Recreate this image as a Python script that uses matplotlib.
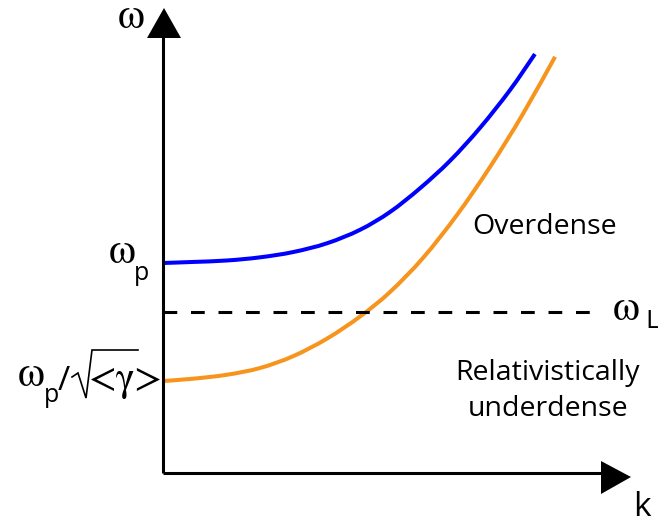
import matplotlib
matplotlib.use("Agg")
import matplotlib.pyplot as plt
from matplotlib.patches import Polygon, PathPatch
from matplotlib.path import Path

# Dispersion curves, in units where omega_p = 1 (k and omega on the same scale)
k_plasma = [0.0, 0.143, 0.305, 0.462, 0.619, 0.781, 0.938, 1.081, 1.224,
            1.367, 1.510, 1.652, 1.771]
w_plasma = [1.000, 1.005, 1.012, 1.027, 1.052, 1.094, 1.158, 1.243, 1.356,
            1.487, 1.644, 1.823, 1.995]

k_rel = [0.0, 0.143, 0.305, 0.462, 0.619, 0.781, 0.938, 1.081, 1.238,
         1.400, 1.557, 1.714, 1.867]
w_rel = [0.438, 0.449, 0.468, 0.500, 0.556, 0.640, 0.745, 0.862, 1.024,
         1.229, 1.457, 1.710, 1.982]

omega_p = 1.0
omega_rel = 0.438
omega_L = 0.767
k_max_dash = 2.084

SCALE = 210.0   # pixels per unit
X0, Y0 = 163.0, 473.0   # origin in pixels
W, H = 658, 529

fig = plt.figure(figsize=(W / 100, H / 100), dpi=100)
ax = fig.add_axes([0, 0, 1, 1])
ax.set_xlim(-X0 / SCALE, (W - X0) / SCALE)
ax.set_ylim(-(H - Y0) / SCALE, Y0 / SCALE)
ax.axis("off")


def P(x, y):
    """pixel position -> data coordinates"""
    return (x - X0) / SCALE, (Y0 - y) / SCALE


def smooth_path(xs, ys):
    """Catmull-Rom curve through the given points, as cubic Bezier segments."""
    pts = list(zip(xs, ys))
    verts = [pts[0]]
    codes = [Path.MOVETO]
    n = len(pts)
    for i in range(n - 1):
        p0 = pts[i - 1] if i > 0 else pts[i]
        p1 = pts[i]
        p2 = pts[i + 1]
        p3 = pts[i + 2] if i + 2 < n else pts[i + 1]
        c1 = (p1[0] + (p2[0] - p0[0]) / 6, p1[1] + (p2[1] - p0[1]) / 6)
        c2 = (p2[0] - (p3[0] - p1[0]) / 6, p2[1] - (p3[1] - p1[1]) / 6)
        verts += [c1, c2, p2]
        codes += [Path.CURVE4] * 3
    return Path(verts, codes)


BLUE = "#0000ff"
ORANGE = "#f7941d"
SANS = ["Open Sans", "DejaVu Sans"]
SERIF = ["STIXGeneral", "Liberation Serif", "DejaVu Serif"]

# axes with arrow heads
ax.plot([0, 0], [0, P(0, 36)[1]], color="black", lw=2.2, solid_capstyle="butt")
ax.plot([0, P(603, 0)[0]], [0, 0], color="black", lw=2.2, solid_capstyle="butt")
ax.add_patch(Polygon([P(147, 38), P(181, 38), P(164, 8)], closed=True,
                     color="black", lw=0))
ax.add_patch(Polygon([P(601, 461), P(601, 494), P(631, 477)], closed=True,
                     color="black", lw=0))

# laser frequency
ax.plot([0, k_max_dash], [omega_L, omega_L], color="black", lw=2.2,
        dashes=(4.5, 4.5))

# curves
ax.add_patch(PathPatch(smooth_path(k_plasma, w_plasma), fill=False,
                       edgecolor=BLUE, lw=2.9, capstyle="butt"))
ax.add_patch(PathPatch(smooth_path(k_rel, w_rel), fill=False,
                       edgecolor=ORANGE, lw=2.9, capstyle="butt"))

# axis labels
ax.text(*P(131, 18), "ω", family=SERIF, fontsize=31, ha="center", va="center")
ax.text(*P(642, 508), "k", family=SANS, fontsize=24, ha="center", va="center")

# omega_L
ax.text(*P(626, 310), "ω", family=SERIF, fontsize=31, ha="center", va="center")
ax.text(*P(652, 322), "L", family=SANS, fontsize=19, ha="center", va="center")

# omega_p
ax.text(*P(122, 253), "ω", family=SERIF, fontsize=31, ha="center", va="center")
ax.text(*P(142, 273), "p", family=SANS, fontsize=18, ha="center", va="center")

# omega_p / sqrt(<gamma>)
ax.text(*P(31, 376), "ω", family=SERIF, fontsize=31, ha="center", va="center")
ax.text(*P(52, 396), "p", family=SANS, fontsize=18, ha="center", va="center")
ax.text(*P(64, 382), "/", family=SANS, fontsize=24, ha="center", va="center")
ax.plot(*zip(P(72, 377), P(78, 373), P(86, 398), P(92, 350), P(138, 350)),
        color="black", lw=1.2, solid_joinstyle="miter")
ax.text(*P(126, 380), "<γ>", family=SERIF, fontsize=29, ha="center",
        va="center")

# region labels
ax.text(*P(545, 227), "Overdense", family=SANS, fontsize=20.5, ha="center",
        va="center")
ax.text(*P(548, 373), "Relativistically", family=SANS, fontsize=20.5,
        ha="center", va="center")
ax.text(*P(548, 409), "underdense", family=SANS, fontsize=20.5, ha="center",
        va="center")

fig.savefig("out.png", dpi=100)
